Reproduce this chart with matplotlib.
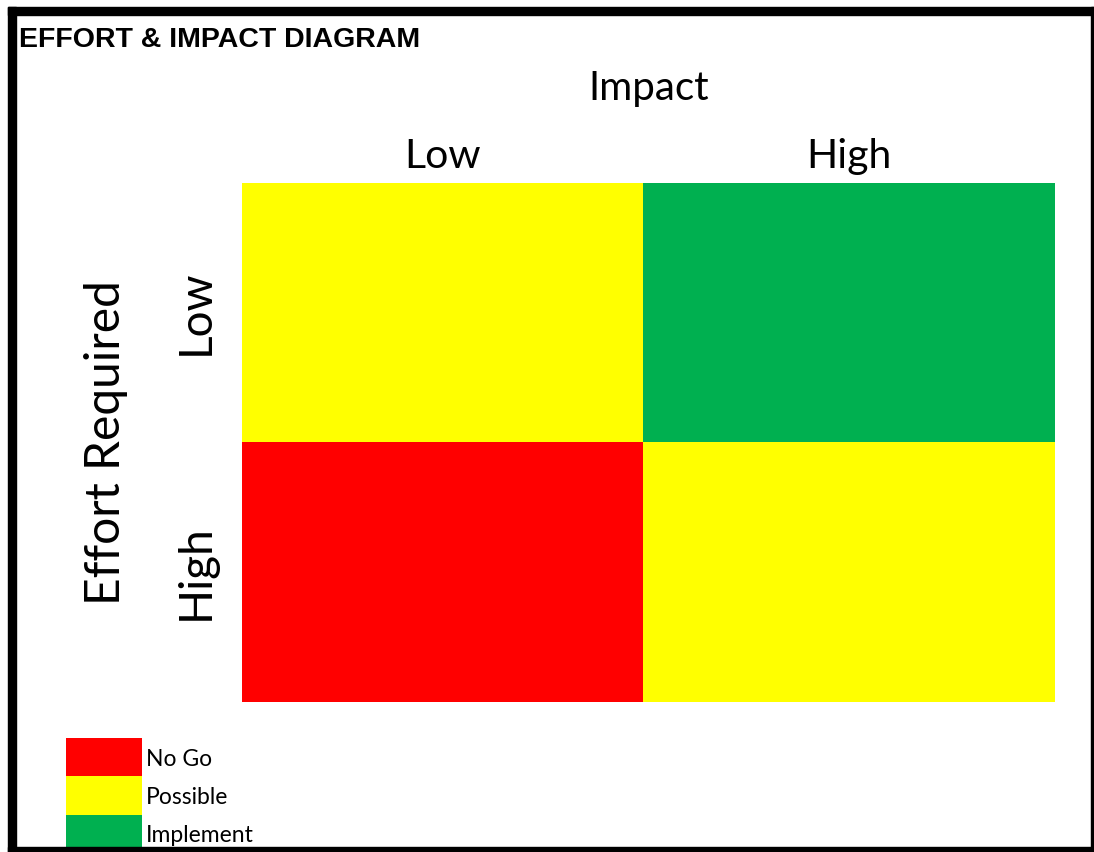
import matplotlib.pyplot as plt
from matplotlib.colors import ListedColormap
from matplotlib.patches import Rectangle

# categories and outcome matrix (rows: effort, cols: impact)
impact_levels = ["Low", "High"]
effort_levels = ["Low", "High"]
outcome_names = ["No Go", "Possible", "Implement"]
outcome_colors = ["#FF0000", "#FFFF00", "#00B050"]
outcome_grid = [[1, 2],
                [0, 1]]

W, H = 1094, 852
fig = plt.figure(figsize=(W / 100, H / 100), dpi=100)
fig.patch.set_facecolor("white")

def px_box(x0, y0, x1, y1):
    # pixel box (top-left origin) -> figure fraction rect
    return [x0 / W, 1 - y1 / H, (x1 - x0) / W, (y1 - y0) / H]

txt_font = ["Lato", "DejaVu Sans"]

# cell edges of the matrix, in pixels
col_edges = [242, 643, 1055]
row_edges = [183, 442, 702]

ax = fig.add_axes(px_box(col_edges[0], row_edges[0], col_edges[-1], row_edges[-1]))
cmap = ListedColormap(outcome_colors)
ax.pcolormesh(col_edges, row_edges, outcome_grid, cmap=cmap, vmin=-0.5, vmax=2.5)
ax.set_xlim(col_edges[0], col_edges[-1])
ax.set_ylim(row_edges[-1], row_edges[0])
for s in ax.spines.values():
    s.set_visible(False)

xc = [(a + b) / 2 for a, b in zip(col_edges[:-1], col_edges[1:])]
yc = [(a + b) / 2 for a, b in zip(row_edges[:-1], row_edges[1:])]
ax.xaxis.tick_top()
ax.set_xticks(xc)
ax.set_xticklabels(impact_levels, fontsize=29.5, family=txt_font)
ax.set_yticks(yc)
ax.set_yticklabels(effort_levels, fontsize=33, family=txt_font,
                   rotation=90, va="center")
ax.tick_params(axis="x", length=0, pad=6)
ax.tick_params(axis="y", length=0, pad=18)
ax.xaxis.set_label_position("top")
ax.set_xlabel("Impact", fontsize=29, family=txt_font, labelpad=27)
ax.set_ylabel("Effort Required", fontsize=34.5, family=txt_font, labelpad=34)

# legend swatches
lax = fig.add_axes(px_box(66, 738, 400, 853))
lax.barh([0.5, 1.5, 2.5], [1, 1, 1], height=1, color=outcome_colors)
lax.set_xlim(0, (400 - 66) / 76)
lax.set_ylim(3, 0)
lax.axis("off")
for i, name in enumerate(outcome_names):
    lax.text(1.05, i + 0.55, name, fontsize=16.5, family=txt_font,
             va="center", ha="left")

# title and frame
over = fig.add_axes([0, 0, 1, 1], zorder=5)
over.set_xlim(0, W)
over.set_ylim(H, 0)
over.axis("off")
over.patch.set_alpha(0)
over.text(19, 40, "EFFORT & IMPACT DIAGRAM", fontsize=20.5, weight="bold",
          family="Liberation Sans", va="center", ha="left")
over.add_patch(Rectangle((8, 7), W - 8, 8, color="black"))
over.add_patch(Rectangle((8, 7), 8, H - 7, color="black"))
over.add_patch(Rectangle((1091, 7), 3, H - 7, color="black"))
over.add_patch(Rectangle((8, 847), W - 8, 5, color="black"))

fig.savefig("out.png", dpi=100)
